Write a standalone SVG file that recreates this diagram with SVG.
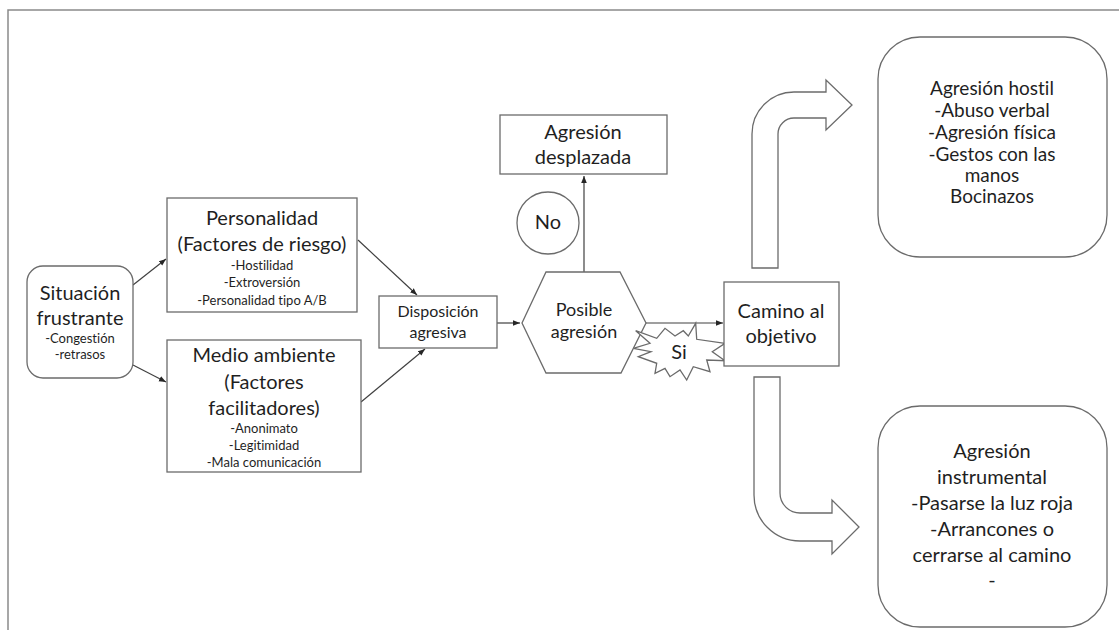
<svg xmlns="http://www.w3.org/2000/svg" width="1119" height="630" viewBox="0 0 1119 630">
  <style>
    .box { fill: #ffffff; stroke: #6b6b6b; stroke-width: 1.3; }
    .conn { fill: none; stroke: #404040; stroke-width: 1.2; }
    .bent { fill: #ffffff; stroke: #6b6b6b; stroke-width: 1.3; stroke-linejoin: miter; }
    text { font-family: Lato, "Liberation Sans", sans-serif; fill: #1f1f1f; text-anchor: middle; font-variant-ligatures: none; }
    .big { font-size: 20px; }
    .list { font-size: 19px; }
    .mid { font-size: 18px; }
    .sm { font-size: 16px; }
    .xs { font-size: 13px; }
  </style>
  <defs>
    <marker id="ah" viewBox="0 0 10 10" refX="10" refY="5" markerWidth="7" markerHeight="7" orient="auto" markerUnits="userSpaceOnUse">
      <path d="M0,1 L10,5 L0,9 Z" fill="#262626"/>
    </marker>
  </defs>

  <rect width="1119" height="630" fill="#ffffff"/>
  <!-- page frame -->
  <path d="M8,630 L8,10 L1119,10" fill="none" stroke="#8a8a8a" stroke-width="1.5"/>

  <g id="connectors">
    <line class="conn" x1="133" y1="285" x2="166" y2="259" marker-end="url(#ah)"/>
    <line class="conn" x1="133" y1="365" x2="166" y2="382" marker-end="url(#ah)"/>
    <line class="conn" x1="358" y1="240" x2="417" y2="295" marker-end="url(#ah)"/>
    <line class="conn" x1="361" y1="402" x2="425" y2="349" marker-end="url(#ah)"/>
    <line class="conn" x1="497" y1="323" x2="520" y2="323" marker-end="url(#ah)"/>
    <line class="conn" x1="584" y1="272" x2="584" y2="176" marker-end="url(#ah)"/>
    <line class="conn" x1="646" y1="323" x2="723" y2="323" marker-end="url(#ah)"/>
  </g>

  <g id="situacion">
    <rect class="box" x="27" y="266" width="106" height="112" rx="16"/>
    <text class="big" x="80" y="300">Situación</text>
    <text class="big" x="80" y="325">frustrante</text>
    <text class="xs" x="80" y="343">-Congestión</text>
    <text class="xs" x="80" y="359">-retrasos</text>
  </g>

  <g id="personalidad">
    <rect class="box" x="167" y="198" width="190" height="114"/>
    <text class="big" x="262" y="225">Personalidad</text>
    <text class="big" x="262" y="251">(Factores de riesgo)</text>
    <text class="xs" x="262" y="270">-Hostilidad</text>
    <text class="xs" x="262" y="287">-Extroversión</text>
    <text class="xs" x="262" y="305">-Personalidad tipo A/B</text>
  </g>

  <g id="medio-ambiente">
    <rect class="box" x="167" y="340" width="194" height="132"/>
    <text class="big" x="264" y="362">Medio ambiente</text>
    <text class="big" x="264" y="389">(Factores</text>
    <text class="big" x="264" y="415">facilitadores)</text>
    <text class="xs" x="264" y="433">-Anonimato</text>
    <text class="xs" x="264" y="450">-Legitimidad</text>
    <text class="xs" x="264" y="467">-Mala comunicación</text>
  </g>

  <g id="disposicion">
    <rect class="box" x="379" y="296" width="118" height="52"/>
    <text class="sm" x="438" y="317">Disposición</text>
    <text class="sm" x="438" y="338">agresiva</text>
  </g>

  <g id="posible-agresion">
    <polygon class="box" points="522,323 546,272 620,272 646,323 621,373 546,373"/>
    <text class="mid" x="584" y="316">Posible</text>
    <text class="mid" x="584" y="338">agresión</text>
  </g>

  <g id="agresion-desplazada">
    <rect class="box" x="500" y="115" width="167" height="59"/>
    <text class="big" x="583" y="139">Agresión</text>
    <text class="big" x="583" y="164">desplazada</text>
  </g>

  <g id="no">
    <circle class="box" cx="548" cy="223" r="31"/>
    <text class="big" x="548" y="229">No</text>
  </g>

  <g id="si">
    <polygon class="box" points="635.7,330.7 656.7,338.3 665,328.3 675,336 683.3,330.7 688.3,336 695.7,323.3 696.7,339.3 725,343.3 712.3,351.7 725,360.7 706.7,360 710,371.7 693.3,366.7 686.7,380 680,370 670,376.7 665,368.3 655,373.3 656.7,363.3 638.3,356.7 651,351.7 633.3,348.3 650,343.3"/>
    <text class="big" x="679" y="359">Si</text>
  </g>

  <g id="camino">
    <rect class="box" x="724" y="282" width="115" height="84"/>
    <text class="big" x="781" y="318">Camino al</text>
    <text class="big" x="781" y="343">objetivo</text>
  </g>

  <g id="flecha-hostil">
    <path class="bent" d="M752,268 L752,134 A42,42 0 0 1 794,92 L826,92 L826,80 L852,105 L826,130 L826,118 L794,118 A16,16 0 0 0 778,134 L778,268 Z"/>
  </g>

  <g id="flecha-instrumental">
    <path class="bent" d="M754,377 L780,377 L780,493 A20,20 0 0 0 800,513 L832,513 L832,500 L859,527 L832,554 L832,541 L800,541 A46,46 0 0 1 754,495 Z"/>
  </g>

  <g id="agresion-hostil">
    <rect class="box" x="878" y="37" width="229" height="220" rx="42"/>
    <text class="list" x="992" y="95">Agresión hostil</text>
    <text class="list" x="992" y="117">-Abuso verbal</text>
    <text class="list" x="992" y="139">-Agresión física</text>
    <text class="list" x="992" y="161">-Gestos con las</text>
    <text class="list" x="992" y="182">manos</text>
    <text class="list" x="992" y="203">Bocinazos</text>
  </g>

  <g id="agresion-instrumental">
    <rect class="box" x="878" y="406" width="229" height="221" rx="42"/>
    <text class="big" x="992" y="458">Agresión</text>
    <text class="big" x="992" y="484">instrumental</text>
    <text class="big" x="992" y="510">-Pasarse la luz roja</text>
    <text class="big" x="992" y="536">-Arrancones o</text>
    <text class="big" x="992" y="562">cerrarse al camino</text>
    <text class="big" x="992" y="587">-</text>
  </g>
</svg>
